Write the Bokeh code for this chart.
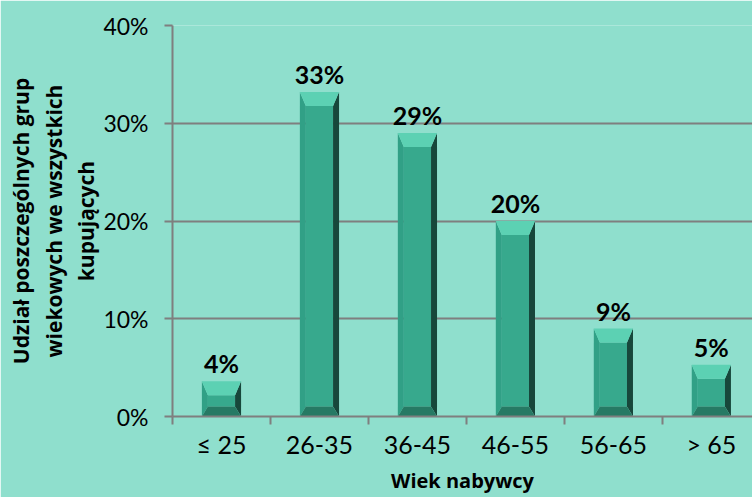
from bokeh.plotting import figure
from bokeh.models import Range1d, FixedTicker, NumeralTickFormatter, ColumnDataSource
from bokeh.core.properties import value
from bokeh.embed import file_html
from bokeh.resources import INLINE

categories = ["\u2264 25", "26-35", "36-45", "46-55", "56-65", "> 65"]
shares = [0.036, 0.332, 0.29, 0.20, 0.09, 0.053]
y_ticks = [0.0, 0.1, 0.2, 0.3, 0.4]
x_title = "Wiek nabywcy"
y_title = "Udzia\u0142 poszczeg\u00f3lnych grup\nwiekowych we wszystkich\nkupuj\u0105cych"

BG = "#8FDFCD"
GRID = "#7F7F7F"

p = figure(width=752, height=497, output_backend="svg", toolbar_location=None,
           x_range=Range1d(0, 5.92), y_range=Range1d(0, 0.40),
           min_border_left=172, min_border_right=0, min_border_top=25, min_border_bottom=81)
p.background_fill_color = BG
p.border_fill_color = BG
p.outline_line_color = None

# bevelled bars built from data values
n = len(categories)
centers = [i + 0.5 for i in range(n)]
bw = 0.4
px_x = 1 / 98.0
px_y = 0.40 / 391.0
dx = 6 * px_x
dt = 14 * px_y
db = 10 * px_y

faces = {"top": ([], []), "left": ([], []), "right": ([], []), "bottom": ([], []), "face": ([], [])}
for c, v in zip(centers, shares):
    x0, x1 = c - bw / 2, c + bw / 2
    ix0, ix1 = x0 + dx, x1 - dx
    iy0, iy1 = db, v - dt
    faces["top"][0].append([x0, x1, ix1, ix0]); faces["top"][1].append([v, v, iy1, iy1])
    faces["left"][0].append([x0, ix0, ix0, x0]); faces["left"][1].append([0, iy0, iy1, v])
    faces["right"][0].append([x1, ix1, ix1, x1]); faces["right"][1].append([0, iy0, iy1, v])
    faces["bottom"][0].append([x0, x1, ix1, ix0]); faces["bottom"][1].append([0, 0, iy0, iy0])
    faces["face"][0].append([ix0, ix1, ix1, ix0]); faces["face"][1].append([iy0, iy0, iy1, iy1])

colors = {"face": "#37A98D", "left": "#31A086", "right": "#17473B", "bottom": "#267A64", "top": "#5CD1B3"}
for key in ["face", "left", "right", "bottom", "top"]:
    xs, ys = faces[key]
    p.patches(xs, ys, fill_color=colors[key], line_color=None)

# data labels
src = ColumnDataSource(dict(x=centers, y=shares, t=["%d%%" % round(v * 100) for v in shares]))
p.text(x="x", y="y", text="t", source=src, text_align="center", text_baseline="alphabetic",
       y_offset=-18, text_font=value("Lato"), text_font_style="bold", text_font_size="25px",
       text_color="#000000")

# grid
p.xgrid.visible = False
p.ygrid.ticker = FixedTicker(ticks=y_ticks)
p.ygrid.grid_line_color = GRID
p.ygrid.grid_line_width = 2

# y axis
ya = p.yaxis[0]
ya.ticker = FixedTicker(ticks=y_ticks)
ya.formatter = NumeralTickFormatter(format="0%")
ya.axis_line_color = GRID
ya.axis_line_width = 2
ya.major_tick_line_color = GRID
ya.major_tick_line_width = 2
ya.major_tick_out = 8
ya.major_tick_in = 0
ya.minor_tick_line_color = None
ya.major_label_standoff = 16
ya.major_label_text_font = "Lato"
ya.major_label_text_font_size = "23px"
ya.major_label_text_color = "#000000"
ya.axis_label = y_title
ya.axis_label_standoff = 0
ya.axis_label_text_font = "Open Sans"
ya.axis_label_text_font_style = "bold"
ya.axis_label_text_font_size = "21px"
ya.axis_label_text_line_height = 1.17
ya.axis_label_text_color = "#000000"

# x axis
xa = p.xaxis[0]
xa.ticker = FixedTicker(ticks=centers, minor_ticks=list(range(n + 1)))
xa.major_label_overrides = {c: lab for c, lab in zip(centers, categories)}
xa.axis_line_color = GRID
xa.axis_line_width = 2
xa.major_tick_out = 0
xa.major_tick_in = 0
xa.minor_tick_line_color = GRID
xa.minor_tick_line_width = 2
xa.minor_tick_out = 8
xa.minor_tick_in = 0
xa.major_label_standoff = 4
xa.major_label_text_font = "Lato"
xa.major_label_text_font_size = "25px"
xa.major_label_text_color = "#000000"
xa.axis_label = x_title
xa.axis_label_standoff = 5
xa.axis_label_text_font = "Open Sans"
xa.axis_label_text_font_style = "bold"
xa.axis_label_text_font_size = "20px"
xa.axis_label_text_color = "#000000"

open("out.html", "w").write(file_html(p, INLINE))
